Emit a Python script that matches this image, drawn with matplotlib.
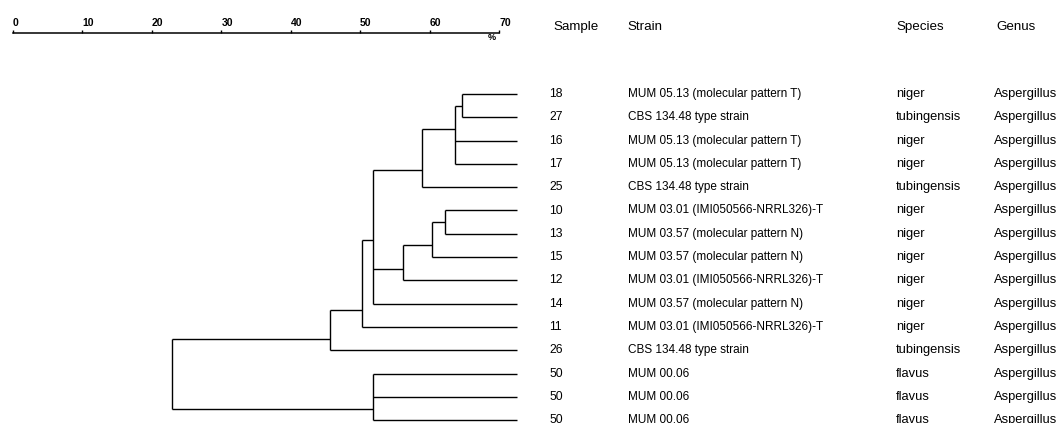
import matplotlib
matplotlib.use("Agg")
import matplotlib.pyplot as plt
from matplotlib.transforms import blended_transform_factory

plt.rcParams["font.family"] = ["Liberation Sans", "DejaVu Sans"]

# table columns, top to bottom
samples = ["18", "27", "16", "17", "25", "10", "13", "15", "12", "14", "11", "26", "50", "50", "50"]
strains = [
    "MUM 05.13 (molecular pattern T)",
    "CBS 134.48 type strain",
    "MUM 05.13 (molecular pattern T)",
    "MUM 05.13 (molecular pattern T)",
    "CBS 134.48 type strain",
    "MUM 03.01 (IMI050566-NRRL326)-T",
    "MUM 03.57 (molecular pattern N)",
    "MUM 03.57 (molecular pattern N)",
    "MUM 03.01 (IMI050566-NRRL326)-T",
    "MUM 03.57 (molecular pattern N)",
    "MUM 03.01 (IMI050566-NRRL326)-T",
    "CBS 134.48 type strain",
    "MUM 00.06",
    "MUM 00.06",
    "MUM 00.06",
]
species = ["niger", "tubingensis", "niger", "niger", "tubingensis", "niger", "niger", "niger",
           "niger", "niger", "niger", "tubingensis", "flavus", "flavus", "flavus"]
genus = ["Aspergillus"] * len(samples)

# dendrogram: leaves end at leaf_level (%), nodes join at node_level (%)
# node_row = row where the branch leaves the node
leaf_level = 72.6
node_names = ["A", "B", "C", "D", "E", "F", "G", "H", "I", "J", "root"]
node_level = [64.6, 63.7, 58.9, 62.2, 60.3, 56.2, 51.9, 50.2, 45.6, 51.9, 22.9]
node_row = [0.5, 1.5, 3.25, 5.5, 6.5, 7.5, 6.25, 9.25, 10.5, 13.5, 12.0]
node_children = [
    [0, 1],
    ["A", 2, 3],
    ["B", 4],
    [5, 6],
    ["D", 7],
    ["E", 8],
    ["C", "F", 9],
    ["G", 10],
    ["H", 11],
    [12, 13, 14],
    ["I", "J"],
]

scale_ticks = [0, 10, 20, 30, 40, 50, 60, 70]

W, H = 1060, 423
fig = plt.figure(figsize=(W / 100, H / 100), dpi=100)

x0, x70 = 13, 499          # pixel ends of the % scale
row_top, row_bot = 94, 420.2

# scale bar on top
ax_s = fig.add_axes([x0 / W, 1 - 33 / H, (x70 - x0) / W, 0.0001])
ax_s.set_xlim(0, 70)
ax_s.set_ylim(0, 1)
for side in ["left", "right", "bottom"]:
    ax_s.spines[side].set_visible(False)
ax_s.spines["top"].set_linewidth(1.1)
ax_s.set_yticks([])
ax_s.set_xticks(scale_ticks)
ax_s.set_xticklabels([str(t) for t in scale_ticks])
ax_s.tick_params(axis="x", top=True, labeltop=True, bottom=False, labelbottom=False,
                 direction="out", length=2.5, width=1, pad=1, labelsize=7.5)
for lbl in ax_s.get_xticklabels():
    lbl.set_fontweight("bold")
    lbl.set_ha("left")
trs = blended_transform_factory(ax_s.transData, fig.transFigure)
ax_s.text(68.9, 1 - 38 / H, "%", transform=trs, ha="center", va="center",
          fontsize=6.5, fontweight="bold")

# dendrogram
ax = fig.add_axes([x0 / W, 1 - row_bot / H, (x70 - x0) / W, (row_bot - row_top) / H])
ax.set_xlim(0, 70)
ax.set_ylim(len(samples) - 1, 0)
ax.axis("off")

lvl = dict(zip(node_names, node_level))
row = dict(zip(node_names, node_row))


def child_pos(c):
    if isinstance(c, str):
        return lvl[c], row[c]
    return leaf_level, c


for name, kids in zip(node_names, node_children):
    rows = [child_pos(k)[1] for k in kids]
    ax.plot([lvl[name], lvl[name]], [min(rows), max(rows)], color="black", lw=1, clip_on=False,
            solid_capstyle="butt")
    for k in kids:
        kx, ky = child_pos(k)
        ax.plot([lvl[name], kx], [ky, ky], color="black", lw=1, clip_on=False,
                solid_capstyle="butt")

# table columns
tr = blended_transform_factory(fig.transFigure, ax.transData)
cols = [(549, samples, 8.7), (628, strains, 8.5), (896, species, 9.3), (994, genus, 9.3)]
for px, vals, size in cols:
    for i, v in enumerate(vals):
        ax.text(px / W, i, v, transform=tr, ha="left", va="center", fontsize=size, clip_on=False)

heads = [(553, "Sample"), (627, "Strain"), (896, "Species"), (996, "Genus")]
for px, h in heads:
    fig.text(px / W, 1 - 27 / H, h, ha="left", va="center", fontsize=9.6)

fig.savefig("out.png", dpi=100)
